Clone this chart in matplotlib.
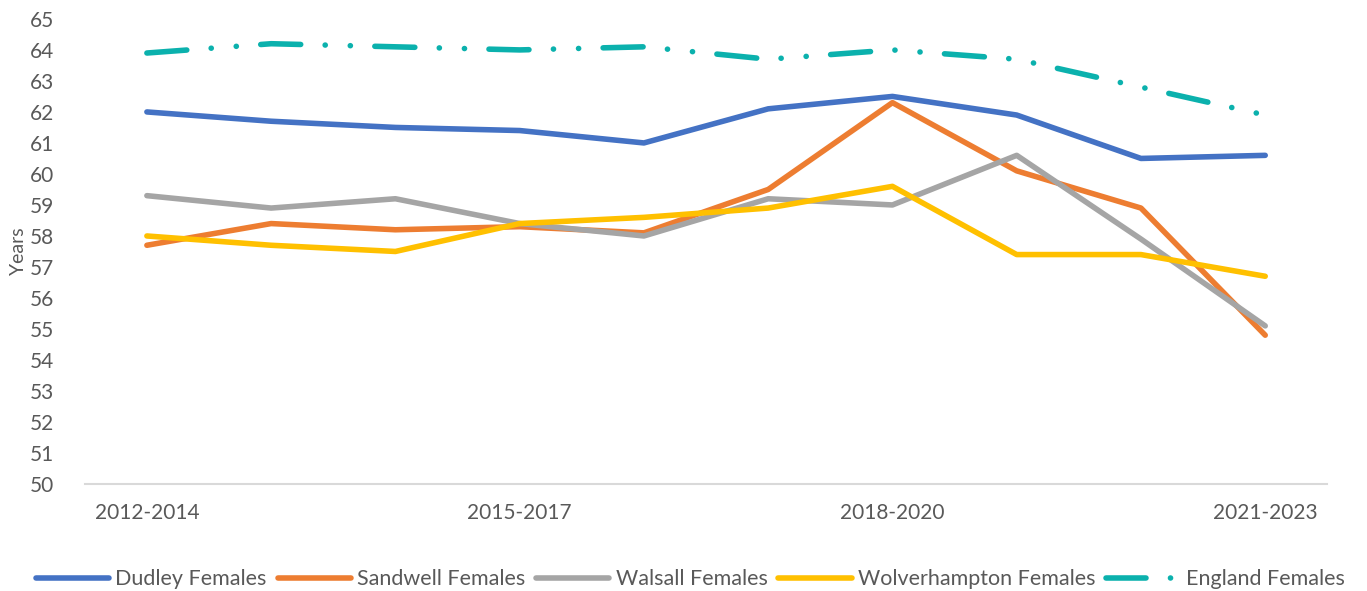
import matplotlib
matplotlib.use("Agg")
import matplotlib.pyplot as plt

plt.rcParams['font.family'] = ['Lato', 'DejaVu Sans']
plt.rcParams['lines.scale_dashes'] = False

periods = ["2012-2014", "2013-2015", "2014-2016", "2015-2017", "2016-2018",
           "2017-2019", "2018-2020", "2019-2021", "2020-2022", "2021-2023"]
shown_labels = ["2012-2014", "2015-2017", "2018-2020", "2021-2023"]

dudley = [62.0, 61.7, 61.5, 61.4, 61.0, 62.1, 62.5, 61.9, 60.5, 60.6]
sandwell = [57.7, 58.4, 58.2, 58.3, 58.1, 59.5, 62.3, 60.1, 58.9, 54.8]
walsall = [59.3, 58.9, 59.2, 58.4, 58.0, 59.2, 59.0, 60.6, 57.9, 55.1]
wolverhampton = [58.0, 57.7, 57.5, 58.4, 58.6, 58.9, 59.6, 57.4, 57.4, 56.7]
england = [63.9, 64.2, 64.1, 64.0, 64.1, 63.7, 64.0, 63.7, 62.8, 61.9]

fig = plt.figure(figsize=(13.67, 5.91), dpi=100)
ax = fig.add_axes([0.062, 0.181, 0.909, 0.787])

x = list(range(len(periods)))
lw = 4.0
ax.plot(x, dudley, color="#4472C4", lw=lw, label="Dudley Females", solid_capstyle="round")
ax.plot(x, sandwell, color="#ED7D31", lw=lw, label="Sandwell Females", solid_capstyle="round")
ax.plot(x, walsall, color="#A5A5A5", lw=lw, label="Walsall Females", solid_capstyle="round")
ax.plot(x, wolverhampton, color="#FFC000", lw=lw, label="Wolverhampton Females", solid_capstyle="round")
ax.plot(x, england, color="#0BB1AD", lw=lw, label="England Females",
        dash_capstyle="round", linestyle=(0, (28.8, 17.6, 0.1, 18, 0.1, 17.6)))

ax.set_xlim(-0.5, len(periods) - 0.5)
ax.set_ylim(50, 65)
ax.set_yticks(range(50, 66))
ax.set_xticks([periods.index(p) for p in shown_labels])
ax.set_xticklabels(shown_labels)
ax.tick_params(axis="both", length=0, labelsize=15, colors="#595959")
ax.tick_params(axis="x", pad=14)
ax.tick_params(axis="y", pad=22)

for s in ["top", "right", "left"]:
    ax.spines[s].set_visible(False)
ax.spines["bottom"].set_color("#D9D9D9")
ax.spines["bottom"].set_linewidth(1.5)

ax.set_ylabel("Years", fontsize=14, color="#595959", labelpad=2)

leg = fig.legend(loc="lower center", bbox_to_anchor=(0.505, -0.03), ncol=5,
                 frameon=False, fontsize=15.5, handlelength=3.4, columnspacing=0.5,
                 handletextpad=0.3)
for t in leg.get_texts():
    t.set_color("#595959")

fig.savefig("out.png", dpi=100)
